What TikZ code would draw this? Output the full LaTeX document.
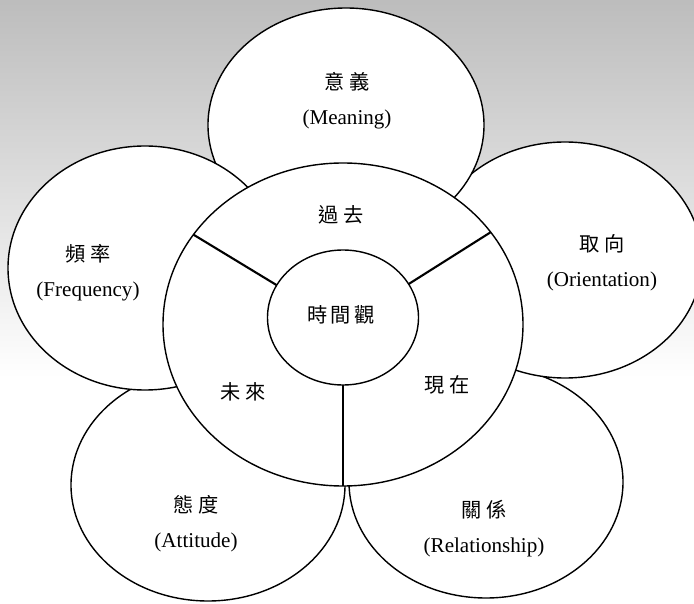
\documentclass[tikz,border=0pt]{standalone}
\usepackage{fontspec}
\setmainfont{Liberation Serif}
\newfontfamily\cjk{Noto Sans CJK TC}
\usetikzlibrary{shapes.geometric}

\newcommand{\zh}[1]{{\cjk\fontsize{11.5}{20}\selectfont #1}}

\begin{document}
\begin{tikzpicture}[
    petal/.style={ellipse, draw, fill=white, line width=0.8pt, inner sep=0pt, outer sep=0pt,
        minimum width=5.48cm, minimum height=4.64cm},
    ring/.style={ellipse, draw, fill=white, line width=0.8pt, inner sep=0pt, outer sep=0pt},
    words/.style={align=center, font=\fontsize{12}{20}\selectfont},
    cut/.style={line width=1.2pt}
]

\useasboundingbox (0,0) rectangle (13.88,12.06);
\clip (0,0) rectangle (13.88,12.06);

% background
\shade[top color=black!26, bottom color=white] (0,4.5) rectangle (13.88,12.06);

% ================= petals =================

\node[petal] (attitude) at (4.16,2.36) {};
\node[petal] (relation) at (9.72,2.42) {};
\node[petal, minimum height=4.72cm] (orient) at (11.30,6.86) {};
\node[petal, minimum width=5.52cm, minimum height=4.68cm] (meaning) at (6.92,9.56) {};
\node[petal, minimum height=4.88cm] (freq) at (2.90,6.70) {};

\node[words] at (6.94,10.05) {\zh{意\hspace{.25em}義}\\(Meaning)};
\node[words] at (1.76,6.61) {\zh{頻\hspace{.25em}率}\\(Frequency)};
\node[words] at (12.04,6.81) {\zh{取\hspace{.25em}向}\\(Orientation)};
\node[words] at (3.92,1.59) {\zh{態\hspace{.25em}度}\\(Attitude)};
\node[words] at (9.68,1.48) {\zh{關\hspace{.25em}係}\\(Relationship)};

% ================= time view =================

\node[ring, minimum width=7.2cm, minimum height=6.46cm] (outer) at (6.86,5.57) {};
\node[ring, minimum width=3.02cm, minimum height=2.70cm] (core) at (6.86,5.71) {};

\draw[cut] (core.154) -- (outer.149);
\draw[cut] (core.27) -- (outer.32);
\draw[cut] (core.270) -- (outer.270);

\node at (6.82,5.76) {\zh{時\hspace{.15em}間\hspace{.15em}觀}};
\node at (6.82,7.76) {\zh{過\hspace{.25em}去}};
\node at (4.86,4.22) {\zh{未\hspace{.25em}來}};
\node at (8.94,4.36) {\zh{現\hspace{.25em}在}};

\end{tikzpicture}
\end{document}
